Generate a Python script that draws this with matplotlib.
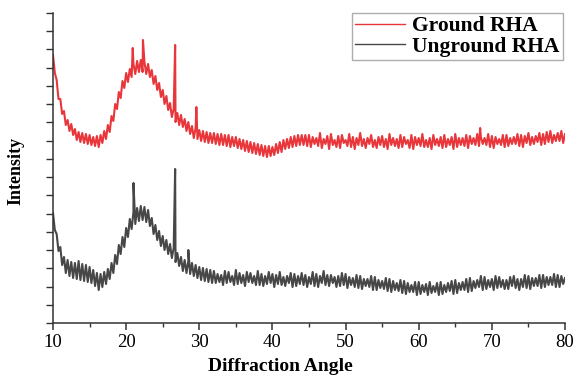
import numpy as np
import matplotlib
matplotlib.use("Agg")
import matplotlib.pyplot as plt
import matplotlib.ticker

# 2-theta sampling, 10..80 deg every 0.25 deg
two_theta = np.linspace(10, 80, 281)

# intensity (arbitrary units), 4 values per degree
ground = [
    268, 250, 243, 224,  224, 209, 212, 198,  203, 192, 199, 188,  194, 183, 191, 181,
    190, 180, 189, 179,  188, 178, 186, 177,  187, 176, 188, 180,  192, 184, 198, 191,
    207, 202, 219, 214,  231, 225, 242, 235,  250, 241, 254, 246,  259, 249, 262, 251,
    263, 251, 261, 249,  259, 246, 253, 239,  247, 233, 240, 226,  233, 219, 227, 213,
    220, 206, 214, 201,  210, 198, 208, 196,  204, 192, 201, 189,  197, 185, 195, 184,
    193, 182, 192, 181,  191, 180, 190, 180,  190, 179, 189, 178,  189, 178, 188, 177,
    188, 176, 186, 177,  186, 175, 184, 174,  183, 172, 182, 171,  181, 170, 180, 169,
    179, 168, 178, 167,  177, 166, 177, 167,  176, 168, 179, 170,  181, 171, 183, 174,
    184, 175, 186, 176,  187, 177, 188, 178,  188, 178, 188, 177,  188, 176, 186, 179,
    185, 177, 190, 175,  184, 179, 187, 174,  189, 178, 183, 176,  187, 175, 188, 180,
    183, 177, 189, 176,  186, 174, 185, 178,  190, 177, 184, 175,  185, 179, 188, 176,
    183, 175, 186, 178,  187, 176, 184, 174,  189, 178, 185, 177,  184, 175, 188, 176,
    186, 179, 183, 175,  188, 174, 186, 178,  185, 177, 189, 176,  183, 176, 185, 174,
    188, 178, 184, 177,  186, 175, 188, 176,  184, 178, 186, 174,  189, 176, 185, 178,
    185, 177, 188, 175,  187, 179, 185, 178,  189, 177, 186, 179,  185, 178, 189, 176,
    187, 175, 186, 179,  184, 178, 188, 176,  188, 177, 185, 179,  186, 179, 189, 177,
    188, 176, 187, 180,  190, 178, 186, 179,  187, 181, 190, 178,  189, 179, 191, 181,
    192, 180, 188, 182,  190, 182, 192, 180,  189,
]

unground = [
    110, 93, 89, 72,  76, 58, 66, 50,  63, 47, 61, 45,  60, 44, 62, 43,
    59, 42, 58, 41,  56, 40, 53, 37,  50, 33, 49, 36,  51, 39, 54, 44,
    60, 50, 68, 59,  78, 69, 86, 76,  95, 86, 104, 94,  111, 99, 115, 102,
    117, 103, 116, 101,  113, 97, 105, 89,  98, 83, 92, 77,  87, 73, 83, 69,
    79, 65, 75, 61,  70, 57, 66, 52,  63, 50, 62, 49,  60, 47, 58, 45,
    56, 43, 55, 42,  54, 41, 53, 40,  52, 40, 49, 41,  48, 38, 52, 40,
    51, 41, 47, 38,  53, 39, 50, 40,  48, 37, 51, 41,  50, 40, 47, 38,
    52, 38, 49, 37,  47, 39, 51, 40,  49, 36, 48, 39,  51, 38, 46, 37,
    47, 40, 50, 36,  49, 37, 47, 39,  50, 38, 48, 36,  46, 39, 51, 37,
    49, 36, 47, 40,  52, 38, 48, 37,  48, 40, 46, 36,  47, 37, 50, 38,
    49, 35, 46, 38,  45, 36, 48, 35,  47, 34, 44, 37,  44, 36, 47, 33,
    46, 33, 43, 35,  42, 34, 45, 32,  44, 31, 42, 33,  40, 32, 43, 30,
    42, 29, 40, 31,  38, 31, 41, 28,  41, 29, 38, 31,  39, 28, 41, 30,
    37, 31, 40, 28,  41, 29, 38, 31,  40, 32, 42, 29,  43, 30, 40, 33,
    41, 33, 44, 31,  45, 32, 42, 35,  43, 36, 47, 33,  46, 34, 43, 36,
    44, 33, 47, 35,  46, 36, 43, 34,  43, 34, 46, 37,  47, 35, 44, 33,
    44, 36, 48, 35,  47, 34, 45, 37,  45, 37, 48, 35,  48, 36, 46, 38,
    46, 38, 49, 36,  48, 36, 47, 39,  45,
]

# sharp crystalline peaks (position, height)
ground_peaks_pos = [20.9, 22.3, 26.7, 29.6, 68.4]
ground_peaks_val = [275, 283, 278, 216, 195]
unground_peaks_pos = [21.0, 26.7, 28.5]
unground_peaks_val = [140, 154, 73]


def with_peaks(x, y, px, py):
    xx = np.concatenate([x, px])
    yy = np.concatenate([np.asarray(y, float), py])
    order = np.argsort(xx, kind="stable")
    return xx[order], yy[order]


plt.rcParams['font.family'] = ['Liberation Serif', 'DejaVu Serif']

fig = plt.figure(figsize=(5.78, 3.8), dpi=100)
ax = fig.add_axes([53 / 578, 57 / 380, 512 / 578, 310 / 380])

gx, gy = with_peaks(two_theta, ground, ground_peaks_pos, ground_peaks_val)
ux, uy = with_peaks(two_theta, unground, unground_peaks_pos, unground_peaks_val)

ax.plot(gx, gy, color='#e8363b', lw=1.5, label='Ground RHA')
ax.plot(ux, uy, color='#474747', lw=1.5, label='Unground RHA')

ax.set_xlim(10, 80)
ax.set_ylim(0, 310)

for s in ['top', 'right']:
    ax.spines[s].set_visible(False)
for s in ['left', 'bottom']:
    ax.spines[s].set_linewidth(1.1)
    ax.spines[s].set_color('#333333')

ax.xaxis.set_major_locator(matplotlib.ticker.MultipleLocator(10))
ax.xaxis.set_minor_locator(matplotlib.ticker.MultipleLocator(5))
ax.yaxis.set_major_locator(matplotlib.ticker.MultipleLocator(310 / 17))
ax.tick_params(axis='x', which='major', length=5, width=1.1, color='#333333',
               labelsize=13.5, pad=3)
ax.tick_params(axis='x', which='minor', length=3, width=1.0, color='#333333')
ax.tick_params(axis='y', which='major', length=5, width=1.0, color='#333333',
               labelleft=False)

ax.set_xlabel('Diffraction Angle', fontsize=14, fontweight='bold')
ax.xaxis.set_label_coords((280 - 53) / 512, -0.113)
ax.set_ylabel('Intensity', fontsize=13, fontweight='bold')
ax.yaxis.set_label_coords(-0.055, 0.49)

leg = ax.legend(loc='upper right', bbox_to_anchor=(0.996, 1.0), borderaxespad=0,
                fancybox=False, frameon=True, handlelength=2.3,
                prop={'weight': 'bold', 'size': 15.5}, labelspacing=0.02,
                borderpad=0.15, handletextpad=0.35)
leg.get_frame().set_edgecolor('#999999')
leg.get_frame().set_linewidth(1.0)
for line in leg.get_lines():
    line.set_linewidth(1.0)

plt.savefig('out.png', dpi=100)
